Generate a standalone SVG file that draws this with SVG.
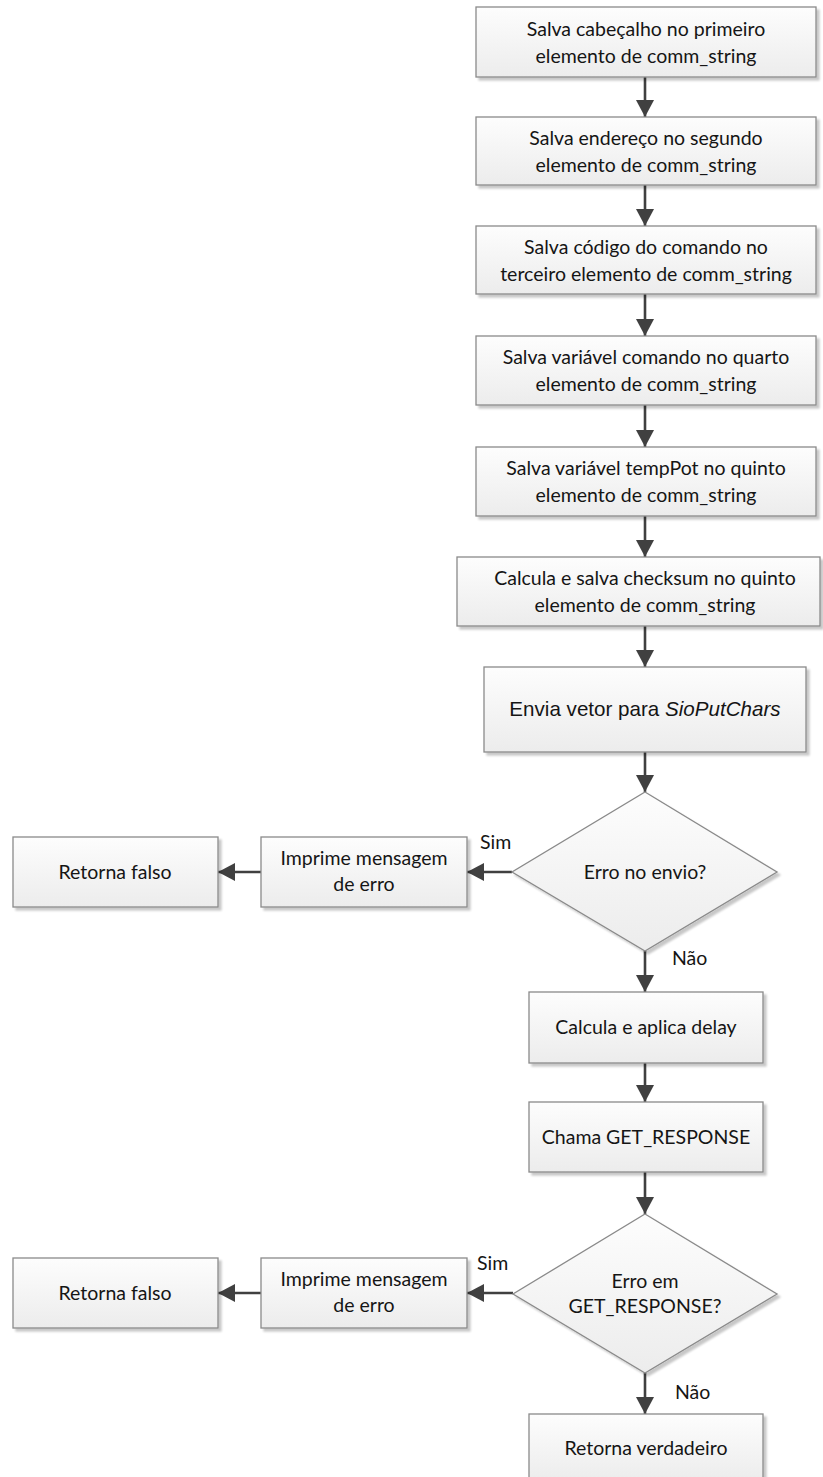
<svg xmlns="http://www.w3.org/2000/svg" width="823" height="1477" viewBox="0 0 823 1477">
<defs>
<linearGradient id="g" x1="0" y1="0" x2="0" y2="1">
<stop offset="0" stop-color="#fdfdfd"/>
<stop offset="1" stop-color="#ececec"/>
</linearGradient>
<filter id="sh" x="-10%" y="-10%" width="130%" height="140%">
<feGaussianBlur in="SourceAlpha" stdDeviation="1.2"/>
<feOffset dx="3" dy="3" result="b"/>
<feComponentTransfer><feFuncA type="linear" slope="0.22"/></feComponentTransfer>
<feMerge><feMergeNode/><feMergeNode in="SourceGraphic"/></feMerge>
</filter>
<marker id="ah" markerUnits="userSpaceOnUse" markerWidth="18" markerHeight="18" viewBox="0 0 18 18" refX="17" refY="9" orient="auto">
<path d="M0,0 L17,9 L0,18 Z" fill="#404040"/>
</marker>
</defs>
<style>
.b{fill:url(#g);stroke:#8a8a8a;stroke-width:1.3;filter:url(#sh)}
.t{font-family:Lato,"Liberation Sans",sans-serif;font-size:19.5px;fill:#151515;text-anchor:middle}
.a{font-family:"Liberation Sans",Arial,sans-serif;font-size:20.6px;fill:#151515;text-anchor:middle}
.l{font-family:Lato,"Liberation Sans",sans-serif;font-size:19.5px;fill:#151515}
.c{stroke:#404040;stroke-width:2.6;fill:none;marker-end:url(#ah)}
</style>
<rect width="823" height="1477" fill="#ffffff"/>
<g id="connectors">
<line class="c" x1="645" y1="77" x2="645" y2="117"/>
<line class="c" x1="645" y1="185" x2="645" y2="226"/>
<line class="c" x1="645" y1="294" x2="645" y2="336"/>
<line class="c" x1="645" y1="405" x2="645" y2="447"/>
<line class="c" x1="645" y1="516" x2="645" y2="557"/>
<line class="c" x1="645" y1="626" x2="645" y2="667"/>
<line class="c" x1="645" y1="752" x2="645" y2="792"/>
<line class="c" x1="645" y1="951" x2="645" y2="992"/>
<line class="c" x1="645" y1="1063" x2="645" y2="1102"/>
<line class="c" x1="645" y1="1172" x2="645" y2="1214"/>
<line class="c" x1="645" y1="1373" x2="645" y2="1414"/>
<line class="c" x1="512" y1="872" x2="467" y2="872"/>
<line class="c" x1="261" y1="872" x2="218" y2="872"/>
<line class="c" x1="513" y1="1293" x2="467" y2="1293"/>
<line class="c" x1="261" y1="1293" x2="218" y2="1293"/>
<text class="l" x="480" y="849">Sim</text>
<text class="l" x="672" y="965">Não</text>
<text class="l" x="477" y="1270">Sim</text>
<text class="l" x="675" y="1399">Não</text>
</g>
<g id="n1"><rect class="b" x="476" y="7" width="340" height="70"/>
<text class="t" x="646" y="36">Salva cabeçalho no primeiro</text><text class="t" x="646" y="63">elemento de comm_string</text></g>
<g id="n2"><rect class="b" x="476" y="117" width="340" height="68"/>
<text class="t" x="646" y="145">Salva endereço no segundo</text><text class="t" x="646" y="172">elemento de comm_string</text></g>
<g id="n3"><rect class="b" x="476" y="226" width="340" height="68"/>
<text class="t" x="646" y="254">Salva código do comando no</text><text class="t" x="646" y="281">terceiro elemento de comm_string</text></g>
<g id="n4"><rect class="b" x="476" y="336" width="340" height="69"/>
<text class="t" x="646" y="364">Salva variável comando no quarto</text><text class="t" x="646" y="391">elemento de comm_string</text></g>
<g id="n5"><rect class="b" x="476" y="447" width="340" height="69"/>
<text class="t" x="646" y="475">Salva variável tempPot no quinto</text><text class="t" x="646" y="502">elemento de comm_string</text></g>
<g id="n6"><rect class="b" x="457" y="557" width="363" height="69"/>
<text class="t" x="645" y="585">Calcula e salva checksum no quinto</text><text class="t" x="645" y="612">elemento de comm_string</text></g>
<g id="n7"><rect class="b" x="484" y="667" width="322" height="85"/>
<text class="a" x="645" y="716">Envia vetor para <tspan font-style="italic">SioPutChars</tspan></text></g>
<g id="d1"><polygon class="b" points="645,792 777,872 645,951 512,872"/>
<text class="t" x="645" y="879">Erro no envio?</text></g>
<g id="e1"><rect class="b" x="261" y="837" width="206" height="70"/>
<text class="t" x="364" y="865">Imprime mensagem</text><text class="t" x="364" y="891">de erro</text></g>
<g id="f1"><rect class="b" x="13" y="837" width="205" height="70"/>
<text class="t" x="115" y="879">Retorna falso</text></g>
<g id="n8"><rect class="b" x="529" y="992" width="234" height="71"/>
<text class="t" x="646" y="1034">Calcula e aplica delay</text></g>
<g id="n9"><rect class="b" x="529" y="1102" width="234" height="70"/>
<text class="t" x="646" y="1144">Chama GET_RESPONSE</text></g>
<g id="d2"><polygon class="b" points="645,1214 777,1294 645,1373 513,1294"/>
<text class="t" x="645" y="1288">Erro em</text><text class="t" x="645" y="1313">GET_RESPONSE?</text></g>
<g id="e2"><rect class="b" x="261" y="1258" width="206" height="70"/>
<text class="t" x="364" y="1286">Imprime mensagem</text><text class="t" x="364" y="1312">de erro</text></g>
<g id="f2"><rect class="b" x="13" y="1258" width="205" height="70"/>
<text class="t" x="115" y="1300">Retorna falso</text></g>
<g id="n10"><rect class="b" x="529" y="1414" width="234" height="68"/>
<text class="t" x="646" y="1455">Retorna verdadeiro</text></g>
</svg>
